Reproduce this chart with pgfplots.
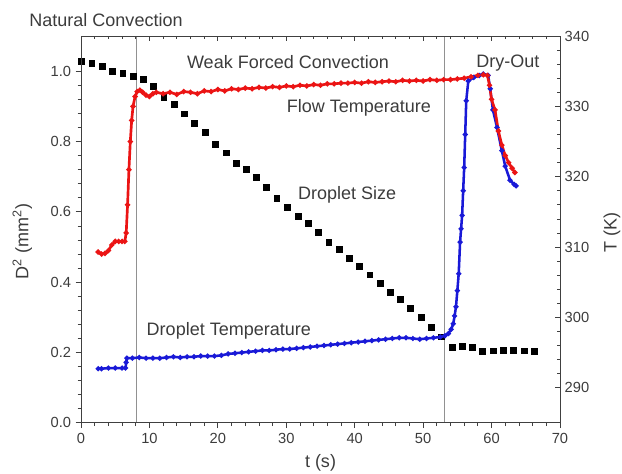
\documentclass[border=0pt]{standalone}
\usepackage{fontspec}
\setmainfont{Liberation Sans}
\usepackage{pgfplots}
\pgfplotsset{compat=1.18}
\definecolor{txt}{RGB}{60,60,60}
\definecolor{vgray}{RGB}{145,145,145}
\definecolor{flowred}{RGB}{235,20,20}
\definecolor{dropblue}{RGB}{25,25,215}

\pgfplotsset{
  common/.style={
    scale only axis, width=359pt, height=290pt,
    xmin=0, xmax=70,
    minor x tick num=4, minor y tick num=4,
    major tick length=4pt, minor tick length=2.5pt,
    axis line style={black!75, line width=0.6pt},
    tick style={black!75, line width=0.6pt},
    ticklabel style={font=\fontsize{11}{13}\selectfont, text=txt},
    /pgf/number format/assume math mode=true,
  }
}

\begin{document}
\begin{tikzpicture}
\begin{axis}[common, name=ax,
  ymin=0, ymax=1.1,
  xtick={0,10,20,30,40,50,60,70},
  ytick={0,0.2,0.4,0.6,0.8,1.0},
  yticklabel style={/pgf/number format/.cd, fixed, fixed zerofill, precision=1},
  xtick pos=bottom, ytick pos=left, tick align=outside,
  clip=false]
% phase boundaries
\addplot[vgray, line width=0.8pt] coordinates {(8.15,0) (8.15,1.1)};
\addplot[vgray, line width=0.8pt] coordinates {(53.1,0) (53.1,1.1)};
% droplet size D^2
\addplot[only marks, mark=square*, mark size=2.2pt, black] coordinates {
(0,1.027) (1.56,1.022) (3.07,1.014) (4.58,1.000) (6.1,0.995) (7.65,0.986)
(9.1,0.976) (10.6,0.956) (12.1,0.926) (13.6,0.907) (15.1,0.879) (16.6,0.852)
(18.1,0.827) (19.6,0.792) (21.2,0.768) (22.7,0.738) (24.1,0.722) (25.6,0.699)
(27.1,0.669) (28.6,0.639) (30.2,0.612) (31.7,0.587) (33.2,0.567) (34.7,0.543)
(36.2,0.514) (37.7,0.493) (39.2,0.467) (40.7,0.446) (42.2,0.421) (43.7,0.397)
(45.2,0.372) (46.6,0.352) (48.1,0.326) (49.7,0.301) (51.2,0.272) (52.7,0.245)
(54.2,0.215) (55.7,0.219) (57.2,0.216) (58.7,0.203) (60.2,0.205) (61.7,0.206)
(63.2,0.207) (64.8,0.205) (66.3,0.204)};
\node[font=\fontsize{13.5}{16}\selectfont, text=txt] at (axis cs:3.65,1.144) {Natural Convection};
\node[font=\fontsize{13.5}{16}\selectfont, text=txt] at (axis cs:30.25,1.027) {Weak Forced Convection};
\node[font=\fontsize{13.5}{16}\selectfont, text=txt] at (axis cs:62.4,1.024) {Dry-Out};
\node[font=\fontsize{13.5}{16}\selectfont, text=txt] at (axis cs:40.6,0.897) {Flow Temperature};
\node[font=\fontsize{13.5}{16}\selectfont, text=txt] at (axis cs:38.9,0.647) {Droplet Size};
\node[font=\fontsize{13.5}{16}\selectfont, text=txt] at (axis cs:21.6,0.261) {Droplet Temperature};
\end{axis}

\begin{axis}[common,
  ymin=285, ymax=340,
  xtick={0,10,20,30,40,50,60,70}, xticklabels={},
  ytick={290,300,310,320,330,340},
  xtick pos=top, ytick pos=right, tick align=inside]
% droplet temperature
\addplot[dropblue, line width=1.9pt, mark=*, mark size=0.8pt] coordinates {
(2.5,292.7) (3,292.7) (4,292.8) (5,292.8) (6,292.8) (6.5,292.8) (6.6,293.6)
(6.7,294.2) (7.5,294.2) (8.5,294.3) (9.5,294.2) (10.5,294.2) (11.5,294.2)
(12.5,294.3) (13.5,294.4) (14.5,294.3) (15.5,294.4) (16.5,294.4) (17.5,294.5)
(18.5,294.5) (19.5,294.5) (20.5,294.6) (21.5,294.8) (22.5,294.9) (23.5,295.0)
(24.5,295.1) (25.5,295.2) (26.5,295.3) (27.5,295.3) (28.5,295.4) (29.5,295.5)
(30.5,295.5) (31.5,295.6) (32.5,295.7) (33.5,295.8) (34.5,295.9) (35.5,296.0)
(36.5,296.1) (37.5,296.2) (38.5,296.3) (39.5,296.4) (40.5,296.5) (41.5,296.6)
(42.5,296.7) (43.5,296.8) (44.5,296.9) (45.5,297.0) (46.5,297.1) (47.5,297.1)
(48.5,297.0) (49.5,296.9) (50.5,297.0) (51.5,297.1) (52.5,297.2) (53.2,297.4)
(53.7,297.7) (54.1,298.3) (54.4,299.1) (54.6,300.2) (54.8,301.5) (55.0,303.8)
(55.2,306.2) (55.4,310.7) (55.55,312.6) (55.7,314.5) (55.85,318) (56.0,321.3)
(56.15,326) (56.3,330.8) (56.6,333.6) (57.4,334.1) (58.2,334.4) (58.8,334.6)
(59.5,334.4) (59.8,332.5) (60.2,329.5) (60.8,327.0) (61.5,323.7) (62.0,321.5)
(62.7,319.5) (63.3,318.9) (63.6,318.7)};
% flow temperature
\addplot[flowred, line width=2pt, mark=*, mark size=0.8pt] coordinates {
(2.5,309.3) (3.0,309.0) (3.5,309.1) (4.0,309.5) (4.5,310.3) (5.0,310.8) (5.5,310.8)
(6.0,310.8) (6.4,310.8) (6.6,312) (6.8,316) (7.0,321) (7.2,325) (7.4,328) (7.6,330)
(7.9,331.4) (8.2,332.1) (8.6,332.3) (9.0,332.0) (9.5,331.6) (10,331.4) (10.5,331.8)
(11,332.0) (12,331.8) (13,332.0) (14,331.7) (15,332.1) (16,332.0) (17,331.8)
(18,332.2) (19,332.1) (20,332.4) (21,332.2) (22,332.5) (23,332.4) (24,332.6)
(25,332.5) (26,332.7) (27,332.6) (28,332.8) (29,332.7) (30,332.9) (31,332.8)
(32,333.0) (33,332.9) (34,333.1) (35,333.0) (36,333.2) (37,333.2) (38,333.3)
(39,333.3) (40,333.4) (41,333.3) (42,333.5) (43,333.4) (44,333.5) (45,333.6)
(46,333.5) (47,333.7) (48,333.6) (49,333.7) (50,333.6) (51,333.8) (52,333.7)
(53,333.8) (54,333.8) (55,333.9) (56,334.0) (57,334.2) (58,334.4) (58.8,334.5)
(59.4,334.4) (59.7,333) (60,331) (60.5,329.5) (61,326.5) (61.5,324.5) (62,323)
(62.5,322) (63,321.2) (63.4,320.6)};
\end{axis}

\node[rotate=90, font=\fontsize{13.5}{16}\selectfont, text=txt] at ([xshift=-44pt,yshift=-9pt]ax.west) {D\textsuperscript{2} (mm\textsuperscript{2})};
\node[rotate=90, font=\fontsize{13.5}{16}\selectfont, text=txt] at ([xshift=39pt,yshift=-2pt]ax.east) {T (K)};
\node[font=\fontsize{13.5}{16}\selectfont, text=txt] at ([yshift=-30pt]ax.south) {t (s)};

\pgfresetboundingbox
\path[use as bounding box] ([xshift=-60.75pt,yshift=-38.25pt]ax.south west) rectangle ([xshift=46.5pt,yshift=27pt]ax.north east);
\end{tikzpicture}
\end{document}
